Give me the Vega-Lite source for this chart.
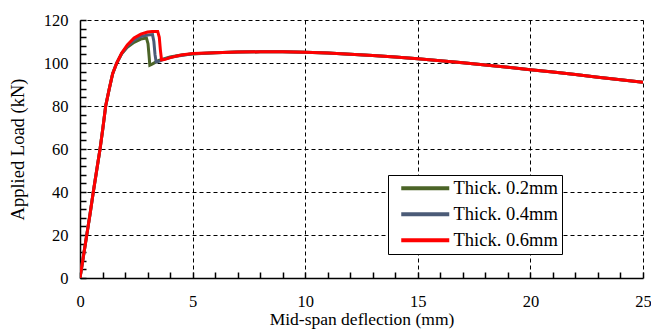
{
  "$schema": "https://vega.github.io/schema/vega-lite/v6.json",
  "width": 563,
  "height": 258,
  "autosize": {"type": "none"},
  "padding": {"left": 80, "top": 20, "right": 8, "bottom": 51},
  "background": "white",
  "config": {
    "view": {"stroke": null},
    "font": "Liberation Serif",
    "legend": {"labelFont": "Liberation Serif", "titleFont": "Liberation Serif"},
    "axis": {
      "labelFont": "Liberation Serif",
      "titleFont": "Liberation Serif",
      "labelFontSize": 16.5,
      "titleFontSize": 18.5,
      "titleFontWeight": "normal",
      "labelColor": "black",
      "titleColor": "black",
      "domainColor": "black",
      "domainWidth": 1.5,
      "ticks": true,
      "tickColor": "black",
      "tickWidth": 1.5,
      "tickSize": -6,
      "gridColor": "black",
      "gridDash": [4, 3],
      "gridWidth": 1
    }
  },
  "data": {
    "values": [
      {"x": 0, "y": 0, "s": "Thick. 0.2mm"},
      {"x": 0.15, "y": 10, "s": "Thick. 0.2mm"},
      {"x": 0.3, "y": 20, "s": "Thick. 0.2mm"},
      {"x": 0.45, "y": 30, "s": "Thick. 0.2mm"},
      {"x": 0.59, "y": 40, "s": "Thick. 0.2mm"},
      {"x": 0.74, "y": 50, "s": "Thick. 0.2mm"},
      {"x": 0.89, "y": 60, "s": "Thick. 0.2mm"},
      {"x": 1.02, "y": 70, "s": "Thick. 0.2mm"},
      {"x": 1.14, "y": 80, "s": "Thick. 0.2mm"},
      {"x": 1.3, "y": 88, "s": "Thick. 0.2mm"},
      {"x": 1.45, "y": 95, "s": "Thick. 0.2mm"},
      {"x": 1.63, "y": 100, "s": "Thick. 0.2mm"},
      {"x": 1.85, "y": 104.3, "s": "Thick. 0.2mm"},
      {"x": 2.1, "y": 107.3, "s": "Thick. 0.2mm"},
      {"x": 2.4, "y": 109.6, "s": "Thick. 0.2mm"},
      {"x": 2.7, "y": 111.1, "s": "Thick. 0.2mm"},
      {"x": 2.95, "y": 111.6, "s": "Thick. 0.2mm"},
      {"x": 3.02, "y": 109, "s": "Thick. 0.2mm"},
      {"x": 3.07, "y": 103, "s": "Thick. 0.2mm"},
      {"x": 3.1, "y": 99, "s": "Thick. 0.2mm"},
      {"x": 3.2, "y": 99.5, "s": "Thick. 0.2mm"},
      {"x": 3.5, "y": 101.2, "s": "Thick. 0.2mm"},
      {"x": 4, "y": 102.8, "s": "Thick. 0.2mm"},
      {"x": 4.5, "y": 103.7, "s": "Thick. 0.2mm"},
      {"x": 5, "y": 104.2, "s": "Thick. 0.2mm"},
      {"x": 6, "y": 104.8, "s": "Thick. 0.2mm"},
      {"x": 7, "y": 105.1, "s": "Thick. 0.2mm"},
      {"x": 8, "y": 105.2, "s": "Thick. 0.2mm"},
      {"x": 9, "y": 105.2, "s": "Thick. 0.2mm"},
      {"x": 10, "y": 105, "s": "Thick. 0.2mm"},
      {"x": 11, "y": 104.6, "s": "Thick. 0.2mm"},
      {"x": 12, "y": 104.1, "s": "Thick. 0.2mm"},
      {"x": 13, "y": 103.5, "s": "Thick. 0.2mm"},
      {"x": 14, "y": 102.8, "s": "Thick. 0.2mm"},
      {"x": 15, "y": 102, "s": "Thick. 0.2mm"},
      {"x": 16, "y": 101.1, "s": "Thick. 0.2mm"},
      {"x": 17, "y": 100.1, "s": "Thick. 0.2mm"},
      {"x": 18, "y": 99.1, "s": "Thick. 0.2mm"},
      {"x": 19, "y": 98, "s": "Thick. 0.2mm"},
      {"x": 20, "y": 96.9, "s": "Thick. 0.2mm"},
      {"x": 21, "y": 95.8, "s": "Thick. 0.2mm"},
      {"x": 22, "y": 94.6, "s": "Thick. 0.2mm"},
      {"x": 23, "y": 93.4, "s": "Thick. 0.2mm"},
      {"x": 24, "y": 92.2, "s": "Thick. 0.2mm"},
      {"x": 25, "y": 91, "s": "Thick. 0.2mm"},

      {"x": 0, "y": 0, "s": "Thick. 0.4mm"},
      {"x": 0.15, "y": 10, "s": "Thick. 0.4mm"},
      {"x": 0.3, "y": 20, "s": "Thick. 0.4mm"},
      {"x": 0.45, "y": 30, "s": "Thick. 0.4mm"},
      {"x": 0.59, "y": 40, "s": "Thick. 0.4mm"},
      {"x": 0.74, "y": 50, "s": "Thick. 0.4mm"},
      {"x": 0.89, "y": 60, "s": "Thick. 0.4mm"},
      {"x": 1.02, "y": 70, "s": "Thick. 0.4mm"},
      {"x": 1.14, "y": 80, "s": "Thick. 0.4mm"},
      {"x": 1.3, "y": 88, "s": "Thick. 0.4mm"},
      {"x": 1.45, "y": 95, "s": "Thick. 0.4mm"},
      {"x": 1.63, "y": 100, "s": "Thick. 0.4mm"},
      {"x": 1.85, "y": 104.4, "s": "Thick. 0.4mm"},
      {"x": 2.1, "y": 107.8, "s": "Thick. 0.4mm"},
      {"x": 2.4, "y": 110.6, "s": "Thick. 0.4mm"},
      {"x": 2.7, "y": 112.3, "s": "Thick. 0.4mm"},
      {"x": 3.0, "y": 113, "s": "Thick. 0.4mm"},
      {"x": 3.22, "y": 113.2, "s": "Thick. 0.4mm"},
      {"x": 3.28, "y": 110, "s": "Thick. 0.4mm"},
      {"x": 3.33, "y": 104, "s": "Thick. 0.4mm"},
      {"x": 3.38, "y": 100.5, "s": "Thick. 0.4mm"},
      {"x": 3.5, "y": 100.8, "s": "Thick. 0.4mm"},
      {"x": 3.8, "y": 102, "s": "Thick. 0.4mm"},
      {"x": 4.2, "y": 103, "s": "Thick. 0.4mm"},
      {"x": 5, "y": 104.3, "s": "Thick. 0.4mm"},
      {"x": 6, "y": 104.8, "s": "Thick. 0.4mm"},
      {"x": 7, "y": 105.1, "s": "Thick. 0.4mm"},
      {"x": 8, "y": 105.2, "s": "Thick. 0.4mm"},
      {"x": 9, "y": 105.2, "s": "Thick. 0.4mm"},
      {"x": 10, "y": 105, "s": "Thick. 0.4mm"},
      {"x": 11, "y": 104.6, "s": "Thick. 0.4mm"},
      {"x": 12, "y": 104.1, "s": "Thick. 0.4mm"},
      {"x": 13, "y": 103.5, "s": "Thick. 0.4mm"},
      {"x": 14, "y": 102.8, "s": "Thick. 0.4mm"},
      {"x": 15, "y": 102, "s": "Thick. 0.4mm"},
      {"x": 16, "y": 101.1, "s": "Thick. 0.4mm"},
      {"x": 17, "y": 100.1, "s": "Thick. 0.4mm"},
      {"x": 18, "y": 99.1, "s": "Thick. 0.4mm"},
      {"x": 19, "y": 98, "s": "Thick. 0.4mm"},
      {"x": 20, "y": 96.9, "s": "Thick. 0.4mm"},
      {"x": 21, "y": 95.8, "s": "Thick. 0.4mm"},
      {"x": 22, "y": 94.6, "s": "Thick. 0.4mm"},
      {"x": 23, "y": 93.4, "s": "Thick. 0.4mm"},
      {"x": 24, "y": 92.2, "s": "Thick. 0.4mm"},
      {"x": 25, "y": 91, "s": "Thick. 0.4mm"},

      {"x": 0, "y": 0, "s": "Thick. 0.6mm"},
      {"x": 0.15, "y": 10, "s": "Thick. 0.6mm"},
      {"x": 0.3, "y": 20, "s": "Thick. 0.6mm"},
      {"x": 0.45, "y": 30, "s": "Thick. 0.6mm"},
      {"x": 0.59, "y": 40, "s": "Thick. 0.6mm"},
      {"x": 0.74, "y": 50, "s": "Thick. 0.6mm"},
      {"x": 0.89, "y": 60, "s": "Thick. 0.6mm"},
      {"x": 1.02, "y": 70, "s": "Thick. 0.6mm"},
      {"x": 1.14, "y": 80, "s": "Thick. 0.6mm"},
      {"x": 1.3, "y": 88, "s": "Thick. 0.6mm"},
      {"x": 1.45, "y": 95, "s": "Thick. 0.6mm"},
      {"x": 1.63, "y": 100, "s": "Thick. 0.6mm"},
      {"x": 1.85, "y": 104.6, "s": "Thick. 0.6mm"},
      {"x": 2.1, "y": 108.4, "s": "Thick. 0.6mm"},
      {"x": 2.4, "y": 111.6, "s": "Thick. 0.6mm"},
      {"x": 2.7, "y": 113.4, "s": "Thick. 0.6mm"},
      {"x": 3.0, "y": 114.4, "s": "Thick. 0.6mm"},
      {"x": 3.2, "y": 114.7, "s": "Thick. 0.6mm"},
      {"x": 3.45, "y": 114.7, "s": "Thick. 0.6mm"},
      {"x": 3.52, "y": 112, "s": "Thick. 0.6mm"},
      {"x": 3.57, "y": 106, "s": "Thick. 0.6mm"},
      {"x": 3.62, "y": 101.5, "s": "Thick. 0.6mm"},
      {"x": 3.75, "y": 101.6, "s": "Thick. 0.6mm"},
      {"x": 4.0, "y": 102.5, "s": "Thick. 0.6mm"},
      {"x": 4.5, "y": 103.7, "s": "Thick. 0.6mm"},
      {"x": 5, "y": 104.4, "s": "Thick. 0.6mm"},
      {"x": 6, "y": 104.8, "s": "Thick. 0.6mm"},
      {"x": 7, "y": 105.1, "s": "Thick. 0.6mm"},
      {"x": 8, "y": 105.2, "s": "Thick. 0.6mm"},
      {"x": 9, "y": 105.2, "s": "Thick. 0.6mm"},
      {"x": 10, "y": 105, "s": "Thick. 0.6mm"},
      {"x": 11, "y": 104.6, "s": "Thick. 0.6mm"},
      {"x": 12, "y": 104.1, "s": "Thick. 0.6mm"},
      {"x": 13, "y": 103.5, "s": "Thick. 0.6mm"},
      {"x": 14, "y": 102.8, "s": "Thick. 0.6mm"},
      {"x": 15, "y": 102, "s": "Thick. 0.6mm"},
      {"x": 16, "y": 101.1, "s": "Thick. 0.6mm"},
      {"x": 17, "y": 100.1, "s": "Thick. 0.6mm"},
      {"x": 18, "y": 99.1, "s": "Thick. 0.6mm"},
      {"x": 19, "y": 98, "s": "Thick. 0.6mm"},
      {"x": 20, "y": 96.9, "s": "Thick. 0.6mm"},
      {"x": 21, "y": 95.8, "s": "Thick. 0.6mm"},
      {"x": 22, "y": 94.6, "s": "Thick. 0.6mm"},
      {"x": 23, "y": 93.4, "s": "Thick. 0.6mm"},
      {"x": 24, "y": 92.2, "s": "Thick. 0.6mm"},
      {"x": 25, "y": 91, "s": "Thick. 0.6mm"}
    ]
  },
  "mark": {"type": "line", "strokeWidth": 3, "clip": true},
  "encoding": {
    "x": {
      "field": "x",
      "type": "quantitative",
      "scale": {"domain": [0, 25], "nice": false},
      "axis": {
        "title": "Mid-span deflection (mm)",
        "labelFont": "Liberation Serif",
        "titleFont": "Liberation Serif",
        "titleFontSize": 17.5,
        "values": [0,1,2,3,4,5,6,7,8,9,10,11,12,13,14,15,16,17,18,19,20,21,22,23,24,25],
        "labelExpr": "datum.value % 5 === 0 ? datum.label : ''",
        "labelPadding": 21,
        "labelFlush": false,
        "labelOverlap": false,
        "titlePadding": 1,
        "gridOpacity": {"condition": {"test": "datum.value % 5 === 0 && datum.value > 0", "value": 1}, "value": 0}
      }
    },
    "y": {
      "field": "y",
      "type": "quantitative",
      "scale": {"domain": [0, 120], "nice": false},
      "axis": {
        "title": "Applied Load (kN)",
        "labelFont": "Liberation Serif",
        "titleFont": "Liberation Serif",
        "values": [0,4,8,12,16,20,24,28,32,36,40,44,48,52,56,60,64,68,72,76,80,84,88,92,96,100,104,108,112,116,120],
        "labelExpr": "datum.value % 20 === 0 ? datum.label : ''",
        "labelPadding": 18,
        "labelFlush": false,
        "labelOverlap": false,
        "titlePadding": 16,
        "gridOpacity": {"condition": {"test": "datum.value % 20 === 0 && datum.value > 0", "value": 1}, "value": 0}
      }
    },
    "color": {
      "field": "s",
      "type": "nominal",
      "scale": {
        "domain": ["Thick. 0.2mm", "Thick. 0.4mm", "Thick. 0.6mm"],
        "range": ["#4B6427", "#4B5B77", "#FF0000"]
      },
      "legend": {
        "title": null,
        "orient": "none",
        "legendX": 308,
        "legendY": 155,
        "fillColor": "white",
        "strokeColor": "black",
        "padding": 4,
        "symbolType": "M-1,0H7",
        "symbolSize": 144,
        "symbolStrokeWidth": 4,
        "symbolOffset": 6,
        "labelFont": "Liberation Serif",
        "labelFontSize": 18.5,
        "labelColor": "black",
        "labelOffset": 37,
        "labelExpr": "datum.label + '\u00a0\u00a0\u00a0'",
        "rowPadding": 7
      }
    }
  }
}
